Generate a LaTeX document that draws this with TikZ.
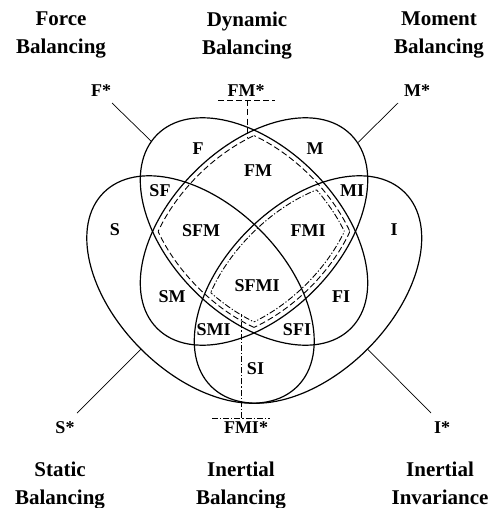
\documentclass[tikz,border=0pt]{standalone}
\usepackage{fontspec}
\setmainfont{Liberation Serif}
\newcommand\insetell[1]{plot[domain=0:360,samples=241,smooth,variable=\t]
  ({(137-#1*0.842/sqrt((0.842*cos(\t))^2+(1.37*sin(\t))^2))*cos(\t)},
   {(84.2-#1*1.37/sqrt((0.842*cos(\t))^2+(1.37*sin(\t))^2))*sin(\t)}) -- cycle}
\begin{document}
\begin{tikzpicture}[x=1pt,y=-1pt,
  venn/.style={line width=1.2pt},
  starline/.style={line width=0.7pt},
  title/.style={font=\fontsize{21}{28}\selectfont\bfseries, align=center, inner sep=0pt, anchor=north},
  lbl/.style={font=\fontsize{18}{20}\selectfont\bfseries, inner sep=0pt, anchor=base},
  dashedline/.style={line width=0.9pt, dash pattern=on 6pt off 3pt},
  dashdotline/.style={line width=0.9pt, dash pattern=on 6pt off 2pt on 1.2pt off 2pt},
  Fpos/.style={shift={(254,231.5)},rotate=-45},
  Mpos/.style={shift={(254,231.5)},rotate=45},
  Spos/.style={shift={(200.5,289.5)},rotate=-45},
  Ipos/.style={shift={(308,289.5)},rotate=45},
]
\useasboundingbox[fill=white] (0,0) rectangle (489,508);

% ellipses
\draw[venn,Fpos] (0,0) ellipse [x radius=137pt, y radius=84.2pt];
\draw[venn,Mpos] (0,0) ellipse [x radius=137pt, y radius=84.2pt];
\draw[venn,Spos] (0,0) ellipse [x radius=137pt, y radius=84.2pt];
\draw[venn,Ipos] (0,0) ellipse [x radius=137pt, y radius=84.2pt];

% dashed outline of F and M
\begin{scope}
  \clip[Mpos] \insetell{5};
  \draw[dashedline,Fpos] \insetell{5};
\end{scope}
\begin{scope}
  \clip[Fpos] \insetell{5};
  \draw[dashedline,Mpos] \insetell{5};
\end{scope}

% dash-dot outline of F, M and I
\begin{scope}
  \clip[Mpos] \insetell{10};
  \clip[Ipos] \insetell{5};
  \draw[dashdotline,Fpos] \insetell{10};
\end{scope}
\begin{scope}
  \clip[Fpos] \insetell{10};
  \clip[Ipos] \insetell{5};
  \draw[dashdotline,Mpos] \insetell{10};
\end{scope}
\begin{scope}
  \clip[Fpos] \insetell{10};
  \clip[Mpos] \insetell{10};
  \draw[dashdotline,Ipos] \insetell{5};
\end{scope}

% titles
\node[title] (tF) at (61,12) {Force\\Balancing};
\node[title] (tD) at (247,12) {Dynamic\\Balancing};
\node[title] (tM) at (439,12) {Moment\\Balancing};
\node[title] (tS) at (60,462) {Static\\Balancing};
\node[title] (tB) at (241,462) {Inertial\\Balancing};
\node[title] (tI) at (440,462) {Inertial\\Invariance};

% star labels
\node[lbl] (sF) at (101,97) {F*};
\node[lbl] (sFM) at (246,97) {FM*};
\node[lbl] (sM) at (417,97) {M*};
\node[lbl] (sS) at (65,433) {S*};
\node[lbl] (sFMI) at (246,433) {FMI*};
\node[lbl] (sI) at (442,433) {I*};

% region labels
\node[lbl] (rF) at (198,154) {F};
\node[lbl] (rM) at (315,154) {M};
\node[lbl] (rFM) at (258,176) {FM};
\node[lbl] (rSF) at (160,196) {SF};
\node[lbl] (rMI) at (352,196.5) {MI};
\node[lbl] (rS) at (115,235) {S};
\node[lbl] (rI) at (394,235) {I};
\node[lbl] (rSFM) at (201,236.5) {SFM};
\node[lbl] (rFMI) at (308,236.5) {FMI};
\node[lbl] (rSFMI) at (257,291.5) {SFMI};
\node[lbl] (rSM) at (172,302.5) {SM};
\node[lbl] (rFI) at (341,302.5) {FI};
\node[lbl] (rSMI) at (213.5,335) {SMI};
\node[lbl] (rSFI) at (297,335) {SFI};
\node[lbl] (rSI) at (255.5,374) {SI};

% star lines
\coordinate (aF1) at (112,103);  \coordinate (aF2) at (152,142);
\coordinate (aM1) at (398,103);  \coordinate (aM2) at (358,142.5);
\coordinate (aS1) at (77,413);   \coordinate (aS2) at (141,349);
\coordinate (aI1) at (431,413);  \coordinate (aI2) at (367.5,349);
\draw[starline] (aF1) -- (aF2);
\draw[starline] (aM1) -- (aM2);
\draw[starline] (aS1) -- (aS2);
\draw[starline] (aI1) -- (aI2);

% FM* marker (dashed)
\coordinate (fmL) at (218,100.5); \coordinate (fmR) at (275,100.5);
\coordinate (fmT) at (247,100.5); \coordinate (fmB) at (247,138);
\draw[dashedline] (fmL) -- (fmR);
\draw[dashedline] (fmT) -- (fmB);

% FMI* marker (dash-dot)
\coordinate (fmiL) at (212,418); \coordinate (fmiR) at (270,418);
\coordinate (fmiB) at (241,418); \coordinate (fmiT) at (241,314);
\draw[dashdotline] (fmiL) -- (fmiR);
\draw[dashdotline] (fmiB) -- (fmiT);
\end{tikzpicture}
\end{document}
